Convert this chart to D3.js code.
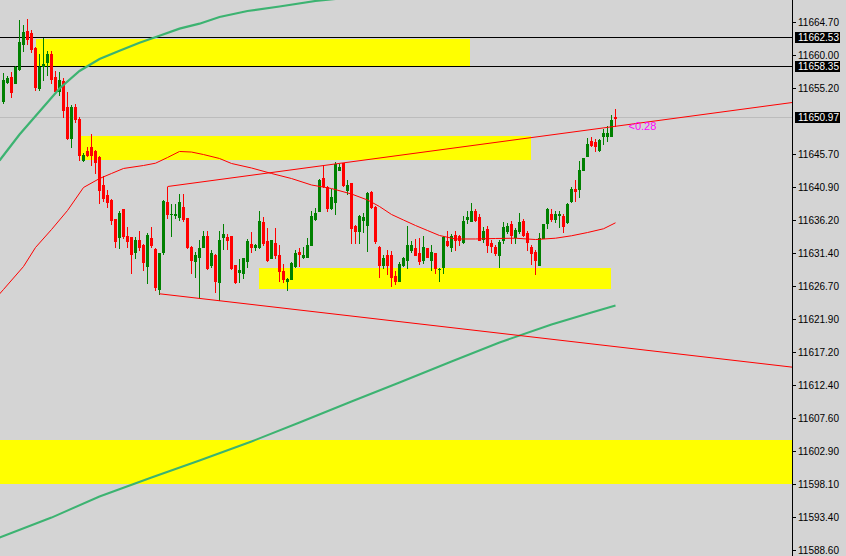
<!DOCTYPE html>
<html><head><meta charset="utf-8">
<script src="https://cdn.jsdelivr.net/npm/d3@7"></script>
<style>
html,body{margin:0;padding:0;background:#d4d4d4;overflow:hidden;}
svg{display:block;}
</style></head><body>
<svg id="c" width="846" height="556"></svg>
<script>
const opens=[11653.36,11656.10,11656.82,11655.95,11657.93,11661.63,11663.50,11663.16,11660.99,11655.29,11658.36,11658.98,11660.09,11656.82,11654.80,11656.34,11652.59,11648.02,11652.59,11650.86,11644.95,11646.15,11646.73,11646.25,11645.29,11641.21,11639.77,11639.15,11636.41,11633.75,11637.75,11634.00,11633.75,11631.59,11633.38,11632.70,11629.58,11633.61,11632.08,11626.22,11631.59,11638.90,11637.03,11636.98,11636.64,11638.18,11636.49,11632.41,11630.30,11630.97,11632.41,11633.90,11629.68,11631.26,11627.27,11633.75,11633.75,11633.86,11629.68,11628.81,11628.57,11630.30,11632.80,11632.31,11632.31,11635.92,11633.14,11630.73,11632.95,11631.26,11628.85,11627.41,11627.76,11629.58,11631.59,11630.87,11630.87,11632.66,11636.31,11637.50,11642.32,11641.06,11637.99,11638.80,11643.51,11644.48,11640.63,11641.54,11635.44,11634.72,11636.26,11635.54,11640.34,11638.18,11632.41,11629.82,11631.12,11631.26,11628.23,11627.51,11629.68,11630.40,11631.98,11632.17,11631.45,11630.50,11632.23,11630.54,11631.45,11629.17,11629.53,11633.14,11632.41,11634.14,11633.90,11633.03,11636.31,11636.16,11637.60,11636.64,11633.52,11634.97,11632.89,11632.31,11631.12,11633.28,11634.62,11635.69,11633.81,11634.62,11636.02,11634.33,11632.41,11631.59,11629.82,11633.67,11635.77,11637.13,11636.31,11636.95,11636.74,11635.92,11638.94,11640.73,11640.73,11643.51,11645.43,11647.69,11647.45,11646.35,11648.31,11648.31,11648.31,11651.10];
const highs=[11657.49,11656.92,11657.54,11658.36,11664.99,11664.37,11665.23,11663.55,11661.24,11660.09,11662.44,11660.66,11660.66,11657.68,11657.54,11656.77,11654.65,11652.74,11652.98,11651.15,11645.96,11646.73,11648.66,11646.39,11645.39,11642.55,11640.49,11639.33,11636.45,11637.60,11637.89,11635.20,11633.80,11633.75,11634.72,11632.77,11634.29,11635.20,11632.20,11631.55,11639.12,11641.06,11638.57,11638.57,11639.91,11639.91,11636.59,11632.49,11631.59,11633.28,11634.58,11634.72,11631.98,11631.40,11634.58,11635.59,11634.24,11633.93,11629.75,11630.64,11630.79,11633.52,11634.48,11632.77,11637.60,11636.64,11635.11,11633.35,11635.11,11632.56,11629.92,11627.87,11630.14,11631.98,11632.23,11632.31,11633.61,11637.60,11637.93,11642.14,11644.09,11641.13,11640.73,11644.56,11644.33,11644.52,11642.03,11641.61,11635.51,11636.95,11637.31,11640.24,11640.39,11638.32,11632.49,11631.12,11631.84,11631.74,11628.85,11630.25,11630.87,11635.34,11633.14,11633.52,11633.67,11633.86,11632.27,11632.70,11631.55,11629.32,11633.86,11634.58,11634.24,11634.72,11634.14,11636.88,11637.60,11638.66,11637.89,11637.03,11635.20,11635.30,11633.28,11632.56,11633.28,11635.92,11635.87,11636.02,11635.11,11637.21,11636.31,11634.72,11632.56,11631.84,11634.29,11635.69,11637.99,11637.89,11637.50,11637.60,11637.13,11638.68,11640.96,11642.07,11644.81,11645.24,11648.08,11648.17,11647.98,11647.84,11649.38,11649.85,11651.44,11652.26];
const lows=[11653.07,11655.98,11654.03,11655.91,11657.85,11660.66,11661.63,11660.42,11655.00,11655.00,11656.44,11657.20,11655.95,11654.61,11654.18,11651.01,11647.98,11646.73,11650.43,11644.95,11644.67,11645.53,11644.23,11643.08,11638.66,11639.04,11638.08,11635.69,11632.31,11632.23,11633.71,11632.31,11628.60,11630.73,11631.84,11629.10,11627.12,11632.41,11626.17,11625.60,11631.36,11636.49,11633.90,11636.49,11636.26,11636.16,11632.27,11628.62,11627.99,11624.96,11632.34,11629.24,11629.53,11625.83,11624.73,11632.08,11632.08,11629.24,11627.18,11627.27,11627.90,11629.53,11631.69,11631.84,11632.27,11632.56,11630.32,11630.69,11630.73,11627.51,11627.27,11626.17,11627.66,11629.53,11629.58,11630.69,11630.83,11632.59,11636.24,11637.46,11641.06,11637.60,11637.89,11637.13,11643.37,11641.13,11639.91,11632.89,11632.89,11632.89,11634.48,11631.74,11638.03,11632.99,11628.09,11629.34,11628.48,11626.79,11626.94,11627.44,11629.60,11629.34,11631.59,11631.19,11629.92,11630.01,11630.90,11628.96,11628.57,11627.51,11628.57,11632.46,11631.74,11631.98,11632.70,11632.99,11635.77,11636.09,11636.02,11633.28,11633.03,11631.59,11631.59,11631.12,11629.43,11632.99,11634.29,11632.89,11632.89,11634.43,11633.86,11631.94,11629.96,11628.45,11629.75,11633.57,11635.05,11636.16,11635.92,11635.20,11634.48,11635.87,11638.80,11639.04,11639.62,11643.37,11645.39,11646.97,11646.25,11646.25,11647.12,11647.69,11648.27,11649.85];
const closes=[11656.48,11656.67,11654.65,11658.26,11661.96,11663.40,11662.35,11660.81,11655.37,11658.26,11658.65,11660.09,11656.59,11654.80,11656.48,11652.16,11648.02,11652.59,11650.72,11645.67,11645.67,11645.63,11645.63,11644.56,11640.63,11639.43,11638.80,11636.26,11633.18,11637.21,11633.86,11633.18,11631.36,11633.28,11632.31,11630.15,11634.14,11632.56,11626.55,11631.45,11639.04,11637.13,11637.13,11637.07,11638.90,11636.31,11632.41,11630.54,11631.12,11632.17,11633.86,11629.29,11631.45,11627.51,11633.42,11634.24,11633.42,11629.29,11627.27,11629.00,11630.76,11633.18,11632.31,11632.66,11636.16,11632.89,11630.40,11633.28,11631.12,11628.85,11627.76,11627.80,11630.06,11631.51,11631.36,11631.26,11632.66,11636.74,11637.21,11642.07,11641.11,11637.99,11639.62,11644.33,11643.84,11641.21,11641.31,11635.05,11634.62,11636.88,11636.64,11640.10,11638.18,11633.14,11629.82,11630.73,11629.82,11628.09,11627.51,11629.92,11630.79,11632.56,11632.66,11631.26,11630.30,11632.41,11630.97,11631.69,11629.29,11629.24,11633.75,11632.70,11633.86,11633.38,11633.38,11636.16,11636.64,11637.60,11636.26,11633.38,11634.72,11632.56,11632.46,11631.45,11633.03,11635.20,11635.44,11634.14,11634.82,11635.92,11634.14,11633.03,11631.45,11630.40,11633.57,11635.59,11637.75,11636.31,11637.13,11637.03,11635.44,11638.57,11640.73,11640.38,11643.51,11645.20,11647.12,11647.07,11646.87,11647.79,11648.74,11648.74,11650.68,11650.97];

// moving averages (bar index -> price)
const maRedIdx=[-1,0,5,8,12,16,20,24,27,30,35,38,41,44,47,50,54,57,62,67,72,77,82,87,91,94,97,100,103,106,109,113,118,123,128,133,138,142,146,150,153];
const maRedVal=[11625.57,11626.22,11629.53,11632.27,11634.86,11637.60,11640.92,11642.21,11642.94,11643.66,11644.09,11644.42,11645.24,11646.11,11646.03,11645.67,11645.10,11644.38,11643.73,11642.94,11642.21,11641.28,11640.77,11639.98,11639.12,11638.18,11637.03,11636.23,11635.44,11634.72,11634.00,11633.50,11633.50,11633.57,11633.61,11633.42,11633.61,11633.96,11634.43,11634.97,11635.83];
const maGreenIdx=[-1,4,9,14,19,24,29,34,39,44,49,54,61,69,78,84];
const maGreenVal=[11644.81,11648.56,11651.87,11655.19,11657.71,11659.44,11660.62,11661.77,11662.80,11663.81,11664.53,11665.49,11666.36,11667.01,11667.80,11668.16];
const maLongIdx=[-1,12,24,37,49,62,74,87,99,112,124,137,147,153];
const maLongVal=[11590.47,11593.35,11596.38,11599.12,11601.57,11604.31,11607.05,11610.07,11612.81,11615.84,11618.58,11621.17,11622.90,11623.91];

// trend lines (two anchors each: bar index, price), extended to the right
const upperTrendIdx=[41,150];
const upperTrendPrice=[11641.06,11649.51];
const lowerTrendIdx=[39,150];
const lowerTrendPrice=[11625.60,11618.18];

// yellow zones
const zoneStart=[8,19.3,63.9,-10];
const zoneEnd=[116.7,131.9,151.8,260];
const zoneTop=[11662.32,11648.41,11629.29,11604.53];
const zoneBottom=[11658.36,11644.95,11626.26,11598.21];

// horizontal levels
const levelPrices=[11662.53,11658.35];
const bidPrice=11650.97;
const bidLabel="11650.97";
const levelLabels=["11662.53","11658.35"];
const spreadText="<0.28";

// axis ticks
const tickValues=[11664.70,11660.00,11655.20,11645.70,11640.90,11636.20,11631.40,11626.70,11621.90,11617.20,11612.40,11607.60,11602.90,11598.10,11593.40,11588.60];

const W=846,H=556,plotW=792;
const svg=d3.select("#c");
const x=d3.scaleLinear().domain([0,153]).range([3.5,615.5]);
const y=d3.scaleLinear().domain([11587.807,11667.943]).range([H,0]);
const FONT="'Liberation Sans', Arial, sans-serif";

svg.append("rect").attr("width",W).attr("height",H).attr("fill","#d4d4d4");
svg.append("defs").append("clipPath").attr("id","plot").append("rect").attr("width",plotW).attr("height",H);
const g=svg.append("g").attr("clip-path","url(#plot)");

// zones
g.selectAll("rect.zone").data(d3.range(zoneStart.length)).join("rect")
  .attr("class","zone")
  .attr("x",i=>Math.round(x(zoneStart[i])))
  .attr("width",i=>Math.round(x(zoneEnd[i]))-Math.round(x(zoneStart[i])))
  .attr("y",i=>Math.round(y(zoneTop[i])))
  .attr("height",i=>Math.round(y(zoneBottom[i]))-Math.round(y(zoneTop[i])))
  .attr("fill","#ffff00").attr("shape-rendering","crispEdges");

// bid line
g.append("line").attr("x1",0).attr("x2",plotW)
  .attr("y1",Math.floor(y(bidPrice))+0.5).attr("y2",Math.floor(y(bidPrice))+0.5)
  .attr("stroke","#bcbcbc").attr("stroke-width",1).attr("shape-rendering","crispEdges");

// level lines
g.selectAll("line.level").data(levelPrices).join("line").attr("class","level")
  .attr("x1",0).attr("x2",plotW)
  .attr("y1",d=>Math.floor(y(d))+0.5).attr("y2",d=>Math.floor(y(d))+0.5)
  .attr("stroke","#000").attr("stroke-width",1).attr("shape-rendering","crispEdges");

// candles
const idx=d3.range(opens.length);
const cg=g.append("g").attr("shape-rendering","crispEdges");
const col=i=>closes[i]>=opens[i]?"#008000":"#ff0000";
cg.selectAll("rect.wick").data(idx).join("rect").attr("class","wick")
  .attr("x",i=>x(i)-0.5).attr("width",1)
  .attr("y",i=>Math.round(y(highs[i])))
  .attr("height",i=>Math.max(1,Math.round(y(lows[i]))-Math.round(y(highs[i]))+1))
  .attr("fill",col);
cg.selectAll("rect.body").data(idx).join("rect").attr("class","body")
  .attr("x",i=>x(i)-1.5).attr("width",3)
  .attr("y",i=>Math.round(y(Math.max(opens[i],closes[i]))))
  .attr("height",i=>Math.max(1,Math.round(y(Math.min(opens[i],closes[i])))-Math.round(y(Math.max(opens[i],closes[i])))+1))
  .attr("fill",col);

// moving averages
const lineGen=d3.line().x(d=>x(d[0])).y(d=>y(d[1]));
g.append("path").datum(d3.zip(maLongIdx,maLongVal)).attr("d",lineGen)
  .attr("fill","none").attr("stroke","#3cb371").attr("stroke-width",2);
g.append("path").datum(d3.zip(maGreenIdx,maGreenVal)).attr("d",lineGen)
  .attr("fill","none").attr("stroke","#3cb371").attr("stroke-width",2.2);
g.append("path").datum(d3.zip(maRedIdx,maRedVal)).attr("d",lineGen)
  .attr("fill","none").attr("stroke","#ff0000").attr("stroke-width",1);

// trend lines
function ray(ix,px){
  const e=x.invert(plotW+2);
  const s=(px[1]-px[0])/(ix[1]-ix[0]);
  return [[ix[0],px[0]],[e,px[0]+s*(e-ix[0])]];
}
[[upperTrendIdx,upperTrendPrice],[lowerTrendIdx,lowerTrendPrice]].forEach(([a,b])=>{
  g.append("path").datum(ray(a,b)).attr("d",lineGen)
   .attr("fill","none").attr("stroke","#ff0000").attr("stroke-width",1);
});

// spread text
g.append("text").attr("x",x(153)+13).attr("y",y(bidPrice)+12)
  .attr("font-family",FONT).attr("font-size",11).attr("fill","#ff00ff").text(spreadText);

// right axis
svg.append("line").attr("x1",plotW+0.5).attr("x2",plotW+0.5).attr("y1",0).attr("y2",H)
  .attr("stroke","#000").attr("shape-rendering","crispEdges");
const ax=svg.append("g");
ax.selectAll("line.tk").data(tickValues).join("line").attr("class","tk")
  .attr("x1",plotW).attr("x2",plotW+4)
  .attr("y1",d=>Math.floor(y(d))+0.5).attr("y2",d=>Math.floor(y(d))+0.5)
  .attr("stroke","#000").attr("shape-rendering","crispEdges");
ax.selectAll("text.tl").data(tickValues).join("text").attr("class","tl")
  .attr("x",plotW+6).attr("y",d=>Math.floor(y(d))+4)
  .attr("font-family",FONT).attr("font-size",10).attr("fill","#000")
  .text(d=>d3.format(".2f")(d));

// label boxes
const boxes=[[levelPrices[0],levelLabels[0]],[levelPrices[1],levelLabels[1]],[bidPrice,bidLabel]];
boxes.forEach(([p,t])=>{
  const yy=Math.floor(y(p));
  ax.append("rect").attr("x",plotW+3).attr("y",yy-5).attr("width",45).attr("height",11)
    .attr("fill","#000").attr("shape-rendering","crispEdges");
  ax.append("text").attr("x",plotW+6).attr("y",yy+4)
    .attr("font-family",FONT).attr("font-size",10).attr("fill","#fff").text(t);
});
</script>
</body></html>
